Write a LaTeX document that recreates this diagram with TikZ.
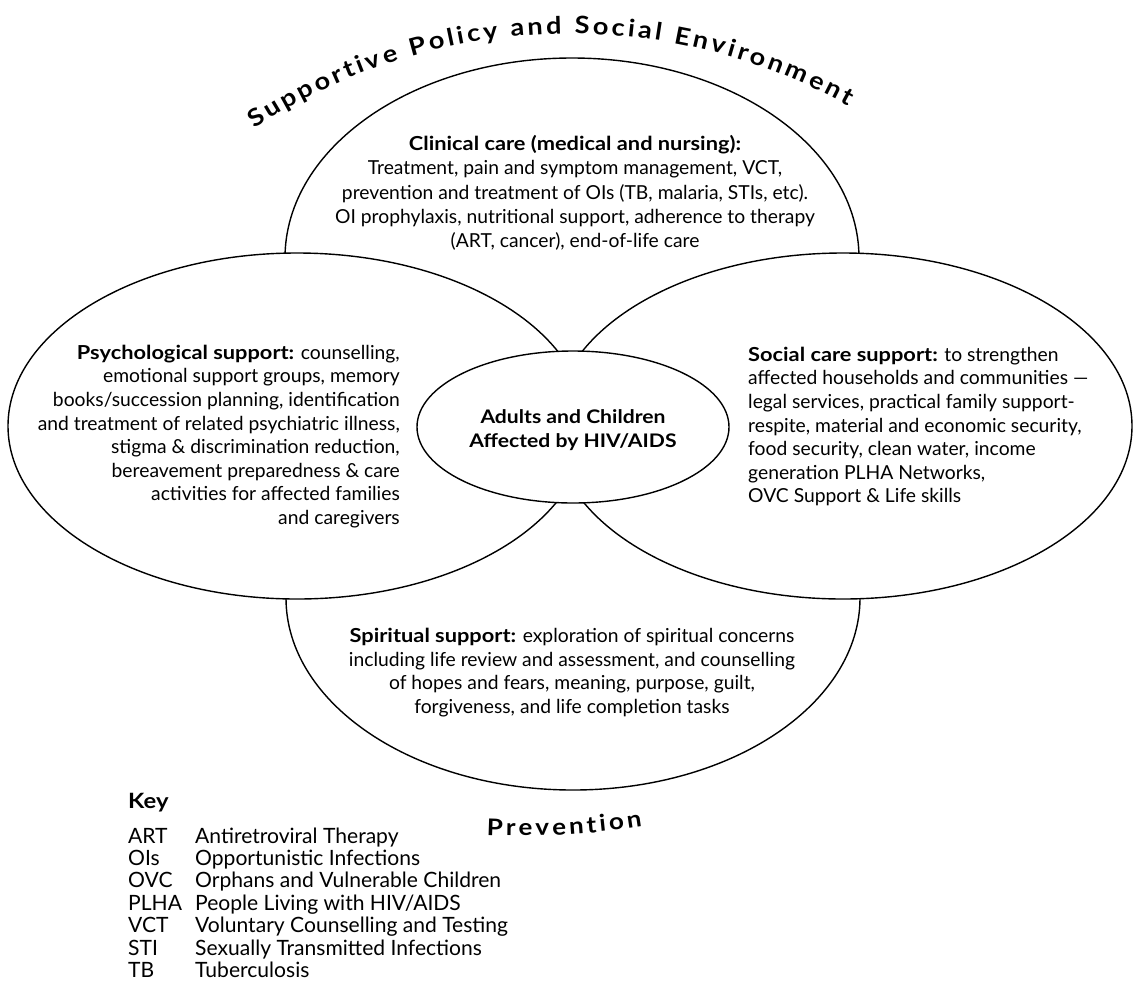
\documentclass[tikz,border=0pt]{standalone}
\usepackage{fontspec}
\setmainfont{Lato}[BoldFeatures={FakeStretch=1.13}]
\usetikzlibrary{decorations.text}
% font size that makes a sample line a given width (pt)
\newsavebox\probe
\newcommand\fitsize[3]{\sbox\probe{\rmfamily\fontsize{10}{12}\selectfont #3}%
    \pgfmathsetmacro#1{10*#2/\the\wd\probe}}
\fitsize\bodysize{362}{and treatment of related psychiatric illness,}
\fitsize\keysize{306}{Orphans and Vulnerable Children}
\fitsize\hubsize{185}{\bfseries Adults and Children}
\begin{document}
\begin{tikzpicture}[x=1pt, y=1pt,
    bubble/.style={draw, line width=1.4pt, fill=white},
    txt/.style={inner sep=0pt, font=\fontsize{\bodysize}{23.6}\selectfont},
    keytxt/.style={inner sep=0pt, anchor=base west, font=\fontsize{\keysize}{22}\selectfont},
    arctxt/.style={decorate, decoration={text along path, text align=fit to path, text={#1}}}]
    \useasboundingbox (0,0) rectangle (1133,-986);
    % the five rings, back to front
    \draw[bubble] (572,-258) ellipse [x radius=287, y radius=200]; % clinical
    \draw[bubble] (573,-598) ellipse [x radius=287, y radius=192]; % spiritual
    \draw[bubble] (297,-426) ellipse [x radius=289, y radius=173]; % psychological
    \draw[bubble] (843,-426) ellipse [x radius=289, y radius=173]; % social
    \draw[bubble] (573,-427) ellipse [x radius=156, y radius=76];  % centre
    % texts
    \node[txt, align=center, font=\fontsize{\bodysize}{24.2}\selectfont] (clinical) at (575,-193) {\textbf{Clinical care (medical and nursing):}\\
        Treatment, pain and symptom management, VCT,\\
        prevention and treatment of OIs (TB, malaria, STIs, etc).\\
        OI prophylaxis, nutritional support, adherence to therapy\\
        (ART, cancer), end-of-life care};
    \node[txt, align=right, anchor=east] (psych) at (400,-436.5) {\textbf{Psychological support:} counselling,\\
        emotional support groups, memory\\
        books/succession planning, identification\\
        and treatment of related psychiatric illness,\\
        stigma \& discrimination reduction,\\
        bereavement preparedness \& care\\
        activities for affected families\\
        and caregivers};
    \node[txt, align=left, anchor=west] (social) at (748,-426.5) {\textbf{Social care support:} to strengthen\\
        affected households and communities ---\\
        legal services, practical family support-\\
        respite, material and economic security,\\
        food security, clean water, income\\
        generation PLHA Networks,\\
        OVC Support \& Life skills};
    \node[txt, align=center] (spiritual) at (572,-672.5) {\textbf{Spiritual support:} exploration of spiritual concerns\\
        including life review and assessment, and counselling\\
        of hopes and fears, meaning, purpose, guilt,\\
        forgiveness, and life completion tasks};
    \node[txt, align=center, font=\bfseries\fontsize{\hubsize}{24}\selectfont] (people) at (573,-430) {Adults and Children\\Affected by HIV/AIDS};
    % curved titles
    \path[arctxt={|\bfseries\fontsize{24}{24}\selectfont|Supportive Policy and Social Environment}]
        (570,-605) ++(123.5:571.3) arc[start angle=123.5, end angle=60.9, radius=571.3];
    \path[arctxt={|\bfseries\fontsize{23}{23}\selectfont|Prevention}]
        (520,-36) ++(-92.4:800) arc[start angle=-92.4, end angle=-81.2, radius=800];
    % key
    \node[keytxt, font=\bfseries\fontsize{\keysize}{22}\selectfont] (key) at (128,-808) {Key};
    \foreach \abbr/\full [count=\i] in {ART/Antiretroviral Therapy, OIs/Opportunistic Infections,
        OVC/Orphans and Vulnerable Children, PLHA/{People Living with HIV/AIDS},
        VCT/Voluntary Counselling and Testing, STI/Sexually Transmitted Infections, TB/Tuberculosis}{
        \node[keytxt] (abbr\i) at (128,{-843-22.4*(\i-1)}) {\abbr};
        \node[keytxt] (full\i) at (195,{-843-22.4*(\i-1)}) {\full};
    }
\end{tikzpicture}
\end{document}
